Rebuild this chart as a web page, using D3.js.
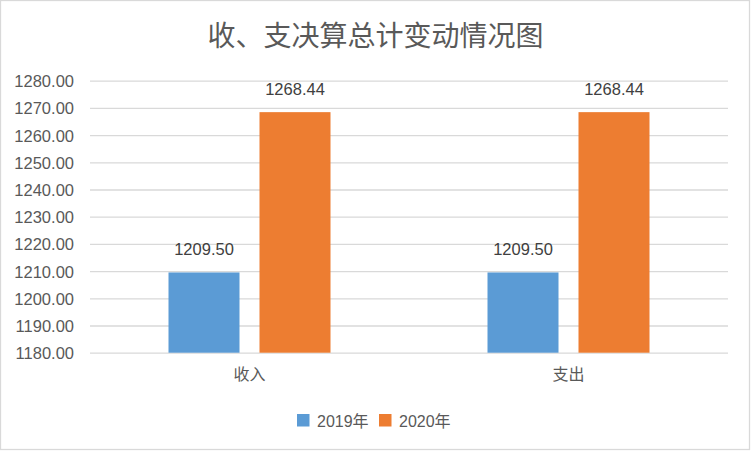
<!DOCTYPE html>
<html>
<head>
<meta charset="utf-8">
<script src="https://d3js.org/d3.v7.min.js"></script>
<style>
  body { margin: 0; background: #fff; }
  .grid line { stroke: #d9d9d9; stroke-width: 1.3; }
  .grid .domain { stroke: none; }
  .yaxis .domain, .yaxis line { stroke: none; }
  .yaxis text { fill: #595959; font-family: "Liberation Sans", Arial, sans-serif; font-size: 16.5px; }
  .xaxis .domain, .xaxis line { stroke: none; }
  .xaxis text { fill: #595959; font-family: "Noto Sans CJK SC", sans-serif; font-size: 16px; }
</style>
</head>
<body>
<svg id="chart" width="752" height="452"></svg>
<script>
  // data
  const categories = ['收入', '支出'];
  const seriesNames = ['2019年', '2020年'];
  const values2019 = [1209.50, 1209.50];
  const values2020 = [1268.44, 1268.44];
  const yTicks = [1180, 1190, 1200, 1210, 1220, 1230, 1240, 1250, 1260, 1270, 1280];
  const colors = ['#5b9bd5', '#ed7d31'];

  const svg = d3.select('svg#chart');
  const width = +svg.attr('width');
  const height = +svg.attr('height');

  const margins = { top: 80.7, right: 24, bottom: 99.3, left: 90 };
  const chartWidth = width - margins.left - margins.right;
  const chartHeight = height - margins.top - margins.bottom;

  // outer border
  svg.append('rect')
    .attr('x', 0.5).attr('y', 0.5)
    .attr('width', 749).attr('height', 449)
    .attr('fill', '#fff')
    .attr('stroke', '#d9d9d9')
    .attr('stroke-width', 1.3);

  svg.append('text')
    .attr('x', 375.5).attr('y', 46)
    .attr('text-anchor', 'middle')
    .attr('fill', '#595959')
    .style('font-family', '"Noto Sans CJK SC", sans-serif')
    .style('font-size', '28px')
    .text('收、支决算总计变动情况图');

  const chartArea = svg.append('g')
    .attr('transform', `translate(${margins.left},${margins.top})`);

  const yScale = d3.scaleLinear().domain([1180, 1280]).range([chartHeight, 0]);
  const xScale = d3.scaleBand().domain(categories).range([0, chartWidth]);
  // two bars per category, 71px wide with a 20px gap, centred in the band
  const barWidth = 71, barGap = 20;
  const barOffset = s => xScale.bandwidth() / 2 - barWidth - barGap / 2 + s * (barWidth + barGap);

  // gridlines
  chartArea.append('g')
    .attr('class', 'grid')
    .call(d3.axisLeft(yScale).tickValues(yTicks).tickFormat('').tickSize(-chartWidth));

  // y axis labels
  chartArea.append('g')
    .attr('class', 'yaxis')
    .attr('transform', 'translate(-13,0)')
    .call(d3.axisLeft(yScale).tickValues(yTicks).tickFormat(d3.format('.2f')).tickSize(0))
    .selectAll('text').attr('dy', '0.36em');

  // x axis labels
  chartArea.append('g')
    .attr('class', 'xaxis')
    .attr('transform', `translate(0,${chartHeight})`)
    .call(d3.axisBottom(xScale).tickSize(0).tickPadding(16));

  const series = [values2019, values2020];
  series.forEach((vals, s) => {
    categories.forEach((c, i) => {
      const x = xScale(c) + barOffset(s);
      chartArea.append('rect')
        .attr('x', x)
        .attr('y', yScale(vals[i]))
        .attr('width', barWidth)
        .attr('height', chartHeight - yScale(vals[i]))
        .attr('fill', colors[s]);

      chartArea.append('text')
        .attr('x', x + barWidth / 2)
        .attr('y', yScale(vals[i]) - 17)
        .attr('text-anchor', 'middle')
        .attr('fill', '#404040')
        .style('font-family', '"Liberation Sans", Arial, sans-serif')
        .style('font-size', '16.5px')
        .text(d3.format('.2f')(vals[i]));
    });
  });

  // legend
  const legendX = [297, 379];
  seriesNames.forEach((name, s) => {
    const g = svg.append('g').attr('transform', `translate(${legendX[s]},414)`);
    g.append('rect').attr('width', 12.5).attr('height', 12.5).attr('fill', colors[s]);
    g.append('text')
      .attr('x', 20).attr('y', 13)
      .attr('fill', '#595959')
      .style('font-family', '"Liberation Sans", "Noto Sans CJK SC", sans-serif')
      .style('font-size', '16px')
      .text(name);
  });
</script>
</body>
</html>
